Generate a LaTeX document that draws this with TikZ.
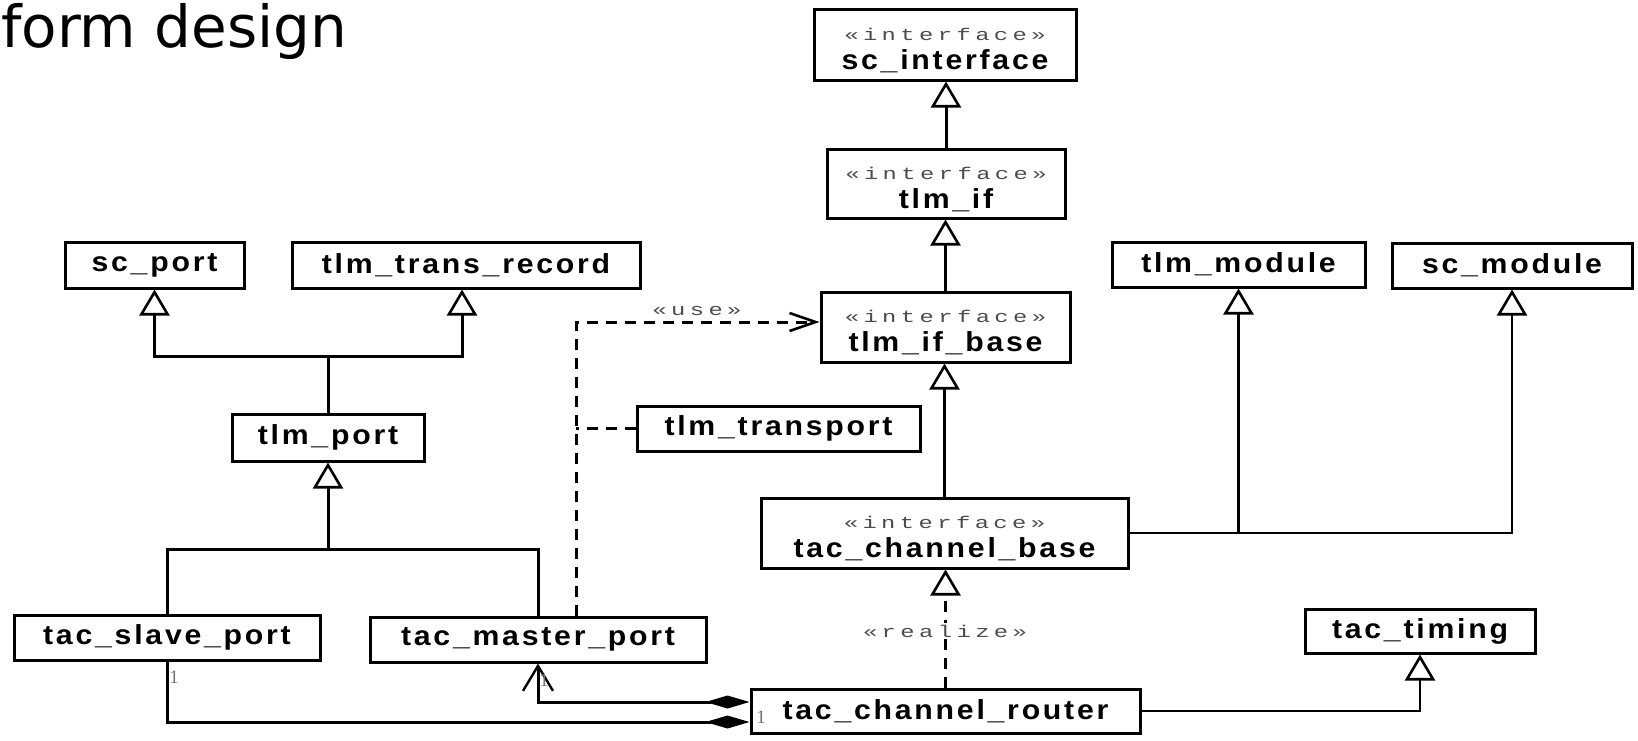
\documentclass[tikz,border=0pt]{standalone}
\usepackage{fontspec}
\setmainfont{Liberation Sans}
\newfontfamily\titlefont{DejaVu Sans}
\newfontfamily\clsfont[LetterSpace=10,FakeStretch=1.1]{Liberation Sans}
\newfontfamily\stfont[LetterSpace=26,FakeStretch=1.4]{Liberation Mono}
\newfontfamily\multfont{Liberation Serif}
\usetikzlibrary{arrows.meta}

% estereotipos y clases
\newcommand{\stereo}[1]{{\stfont\mdseries\fontsize{17}{19}\selectfont\color{black!70}«#1»}}
\newcommand{\iface}[1]{\rule{0pt}{24pt}\stereo{interface}\\[-1pt]#1}

\tikzset{
  cls/.style={draw, line width=3pt, inner sep=0pt, align=center,
    font=\clsfont\bfseries\fontsize{27.5}{30}\selectfont},
  rel/.style={line width=3pt},
  thin rel/.style={line width=2.6pt},
  gen/.style={-{Triangle[open, width=30pt, length=26pt, line width=2.6pt]}},
  dep/.style={line width=3pt, dash pattern=on 11pt off 8pt},
  comp/.style={{Diamond[width=13pt, length=44pt]}-},
  compnav/.style={{Diamond[width=13pt, length=44pt]}-{Straight Barb[width=30pt, length=25pt, line width=2.4pt]}},
  mult/.style={font=\multfont\fontsize{19}{20}\selectfont, text=black!55, inner sep=0pt},
  sttext/.style={font=\stfont\fontsize{17}{19}\selectfont, text=black!70},
}

\begin{document}
\begin{tikzpicture}[x=1pt, y=-1pt]

    \useasboundingbox (0,0) rectangle (1638,740);

    % titulo
    \node[anchor=base west, inner sep=0pt, font=\titlefont\fontsize{58}{60}\selectfont] (title) at (1,47) {form design};

    % interfaces
    \node[cls, minimum width=262pt, minimum height=71pt] (scif) at (945,44.5) {\iface{sc\_interface}};
    \node[cls, minimum width=238pt, minimum height=69pt] (tlmif) at (946,183.5) {\iface{tlm\_if}};
    \node[cls, minimum width=249pt, minimum height=70pt] (ifbase) at (945.5,327) {\iface{tlm\_if\_base}};
    \node[cls, minimum width=367pt, minimum height=70pt] (chbase) at (944.5,533) {\iface{tac\_channel\_base}};

    % puertos
    \node[cls, minimum width=179pt, minimum height=46pt] (scport) at (154.5,265) {sc\_port};
    \node[cls, minimum width=348pt, minimum height=46pt] (record) at (466,265) {tlm\_trans\_record};
    \node[cls, minimum width=192pt, minimum height=47pt] (tlmport) at (328,437.5) {tlm\_port};
    \node[cls, minimum width=306pt, minimum height=45pt] (slave) at (167,637.5) {tac\_slave\_port};
    \node[cls, minimum width=336pt, minimum height=45pt] (master) at (538,639.5) {tac\_master\_port};
    \node[cls, minimum width=283pt, minimum height=45pt] (transport) at (778.5,428.5) {tlm\_transport};

    % modulos
    \node[cls, minimum width=253pt, minimum height=45pt] (tlmmod) at (1238.5,264.5) {tlm\_module};
    \node[cls, minimum width=240pt, minimum height=45pt] (scmod) at (1512,265.5) {sc\_module};
    \node[cls, minimum width=230pt, minimum height=44pt] (timing) at (1420,631) {tac\_timing};
    \node[cls, minimum width=389pt, minimum height=44pt] (router) at (945.5,711) {tac\_channel\_router};

    % herencia de interfaces
    \draw[rel, gen] (tlmif.north) -- (tlmif.north |- scif.south);
    \draw[rel, gen] (ifbase.north) -- (ifbase.north |- tlmif.south);
    \draw[rel, gen] (chbase.north) -- (chbase.north |- ifbase.south);

    % tlm_port
    \coordinate (upj) at (328,356);
    \draw[rel, gen] (tlmport.north) -- (upj) -| (scport.south);
    \draw[rel, gen] (upj) -| ([xshift=-4pt]record.south);

    % puertos tac
    \coordinate (pj) at (328,549);
    \draw[rel, gen] (slave.north) |- (pj) -- (tlmport.south);
    \draw[rel] (master.north) |- (pj);

    % dependencia use
    \coordinate (uc) at (576,428.5);
    \draw[dep, -{Straight Barb[width=18pt, length=26pt, line width=2.6pt]}] ([xshift=38pt]master.north) |- ([yshift=5pt]ifbase.west);
    \draw[dep] (transport.west) -- (uc);
    \node[sttext, inner sep=1pt] (use) at (697,311) {«use»};

    % realizacion
    \draw[dep, gen] (router.north) -- (router.north |- chbase.south);
    \node[sttext, fill=white, inner sep=2pt] (realize) at (945,631) {«realize»};

    % modulos
    \draw[thin rel, gen] (chbase.east) -| (scmod.south);
    \draw[thin rel, gen] (chbase.east -| tlmmod.south) -- (tlmmod.south);
    \draw[thin rel, gen] (router.east) -| (timing.south);

    % asociaciones
    \draw[rel, comp] ([yshift=-11pt]router.west) -| (slave.south);
    \draw[rel, compnav] ([yshift=9pt]router.west) -| (master.south);
    \node[mult] (m1) at (174,677) {1};
    \node[mult] (m2) at (544,680) {1};
    \node[mult] (m3) at (761,717) {1};

\end{tikzpicture}
\end{document}
